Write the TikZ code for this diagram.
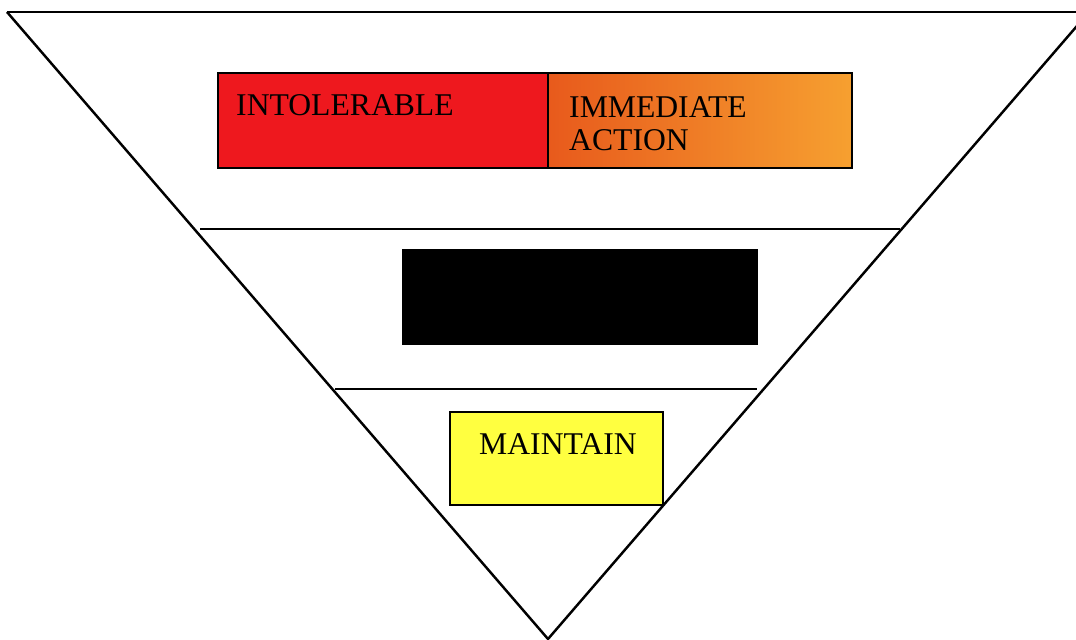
\documentclass[tikz,border=0pt]{standalone}
\usepackage{fontspec}
\setmainfont{Liberation Serif}
\definecolor{riskred}{RGB}{238,24,30}
\definecolor{riskorangeL}{RGB}{232,90,28}
\definecolor{riskorangeR}{RGB}{246,160,48}
\definecolor{riskyellow}{RGB}{255,255,64}
\begin{document}
\begin{tikzpicture}[x=0.01cm,y=-0.01cm,line width=0.7pt,
    label/.style={inner sep=0pt,anchor=north west,align=left,
      font=\fontsize{9}{9.4}\selectfont}]
    \useasboundingbox (0,0) rectangle (1076,640);
    % triangle
    \coordinate (tl) at (7,12);
    \coordinate (tr) at (1089,12);
    \coordinate (apex) at (548,639);
    \draw (tl) -- (tr);
    \draw (tl) -- (apex) -- (tr);

    % level lines
    \coordinate (l1a) at (200,229);
    \coordinate (l1b) at (900,229);
    \coordinate (l2a) at (335,389);
    \coordinate (l2b) at (757,389);
    \draw (l1a) -- (l1b);
    \draw (l2a) -- (l2b);

    % boxes
    \draw[fill=riskred] (218,73) rectangle (548,168);
    \draw[left color=riskorangeL,right color=riskorangeR] (548,73) rectangle (852,168);
    \draw[fill=black] (403,250) rectangle (757,344);
    \draw[fill=riskyellow] (450,412) rectangle (663,505);

    \node[label] (intol) at (235,93) {INTOLERABLE};
    \node[label] (immed) at (568,95) {IMMEDIATE\\ACTION};
    \node[label] (maint) at (478,432) {MAINTAIN};
\end{tikzpicture}
\end{document}
